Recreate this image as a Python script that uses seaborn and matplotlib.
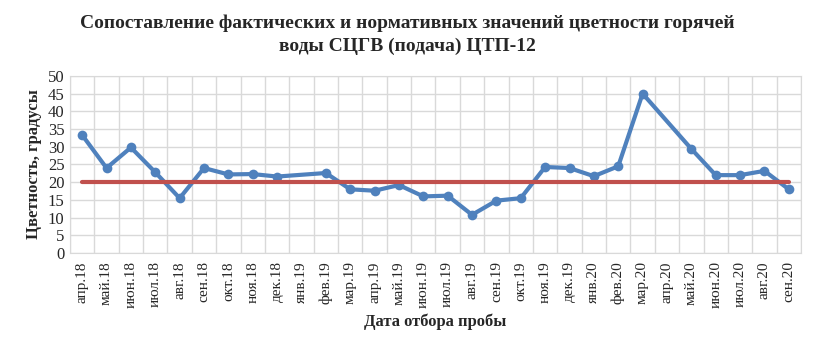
import numpy as np
import pandas as pd
import seaborn as sns
import matplotlib.pyplot as plt

# Data
# =====================================================================
months = ['апр.18', 'май.18', 'июн.18', 'июл.18', 'авг.18', 'сен.18', 'окт.18', 'ноя.18',
          'дек.18', 'янв.19', 'фев.19', 'мар.19', 'апр.19', 'май.19', 'июн.19', 'июл.19',
          'авг.19', 'сен.19', 'окт.19', 'ноя.19', 'дек.19', 'янв.20', 'фев.20', 'мар.20',
          'апр.20', 'май.20', 'июн.20', 'июл.20', 'авг.20', 'сен.20']
actual = [33.3, 24.0, 29.8, 22.8, 15.5, 24.0, 22.2, 22.3, 21.6, np.nan, 22.6, 18.0,
          17.6, 19.2, 16.0, 16.2, 10.8, 14.8, 15.5, 24.3, 24.0, 21.7, 24.5, 45.0,
          np.nan, 29.4, 22.0, 22.0, 23.2, 18.0]
norm = [20] * len(months)

df = pd.DataFrame({'pos': np.arange(len(months)), 'month': months, 'actual': actual, 'norm': norm})
df_act = df.dropna(subset=['actual'])

# Plot
# =====================================================================
sns.set_style('white')
plt.rcParams['font.family'] = ['Liberation Serif', 'DejaVu Serif']

fig = plt.figure(figsize=(8.14, 3.53), dpi=100)
ax = fig.add_axes([0.086, 0.283, 0.898, 0.502])

sns.lineplot(data=df_act, x='pos', y='actual', color='#4F81BD', linewidth=3,
             marker='o', markersize=7, markeredgewidth=0, ax=ax, zorder=3)
sns.lineplot(data=df, x='pos', y='norm', color='#C0504D', linewidth=3, ax=ax, zorder=4)

ax.set_xlim(-0.5, len(months) - 0.5)
ax.set_ylim(0, 50)
ax.set_yticks(np.arange(0, 51, 5))
ax.set_xticks(np.arange(len(months)))
ax.set_xticklabels(months, rotation=90, fontsize=11)
ax.tick_params(axis='y', labelsize=12, length=0, pad=4)
ax.tick_params(axis='x', length=0, pad=6)

# Gridlines between categories
for b in np.arange(-0.5, len(months), 1):
    ax.axvline(b, color='#D9D9D9', linewidth=1, zorder=0)
ax.yaxis.grid(True, color='#D9D9D9', linewidth=1)
ax.set_axisbelow(True)
for s in ax.spines.values():
    s.set_color('#D9D9D9')

ax.set_xlabel('Дата отбора пробы', fontsize=12, fontweight='bold', labelpad=4)
ax.set_ylabel('Цветность, градусы', fontsize=12, fontweight='bold', labelpad=4)

fig.text(0.5, 0.96, 'Сопоставление фактических и нормативных значений цветности горячей\nводы СЦГВ (подача) ЦТП-12',
         fontsize=14, fontweight='bold', ha='center', va='top', linespacing=1.45)

fig.savefig('out.png', dpi=100)
